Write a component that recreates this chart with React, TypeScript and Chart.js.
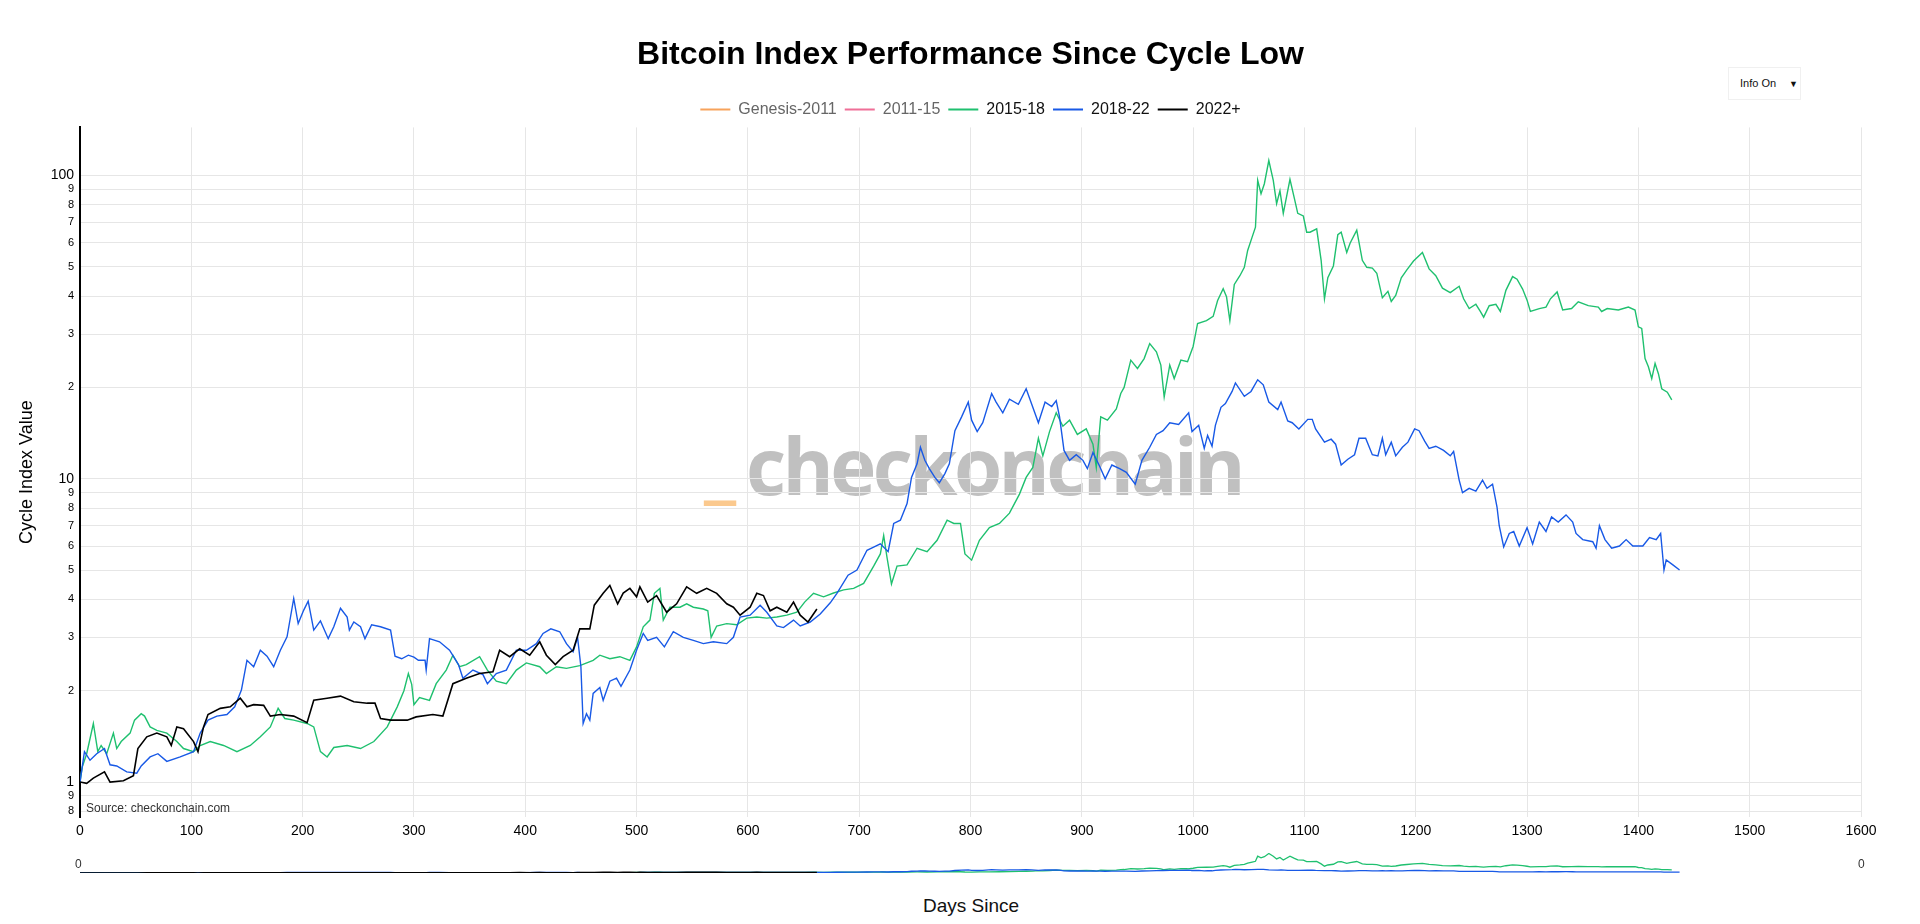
import React, { useEffect, useRef } from "react";
import { Chart, registerables } from "chart.js";

Chart.register(...registerables);

const FONT = '"Liberation Sans", Arial, Helvetica, sans-serif';

const chartTitle = "Bitcoin Index Performance Since Cycle Low";
const seriesLabels = ["Genesis-2011", "2011-15", "2015-18", "2018-22", "2022+"];
const seriesColors = ["#f7a35c", "#ef6f97", "#1fc06f", "#1859e6", "#000000"];
const hiddenSeries = [true, true, false, false, false];

const xTickStep = 100;
const xMin = 0;
const xMax = 1600;
const yMin = 0.767;
const yMax = 144;
const yTickValues = [0.8, 0.9, 1, 2, 3, 4, 5, 6, 7, 8, 9, 10, 20, 30, 40, 50, 60, 70, 80, 90, 100];

const days2015 = [0, 2, 6, 12, 16, 19, 24, 30, 33, 37, 45, 49, 55, 58, 63, 69, 78, 87, 93, 102, 108, 117, 129, 141, 153, 162, 171, 178, 184, 192, 204, 210, 216, 222, 228, 240, 252, 264, 276, 285, 291, 295, 298, 300, 305, 314, 320, 329, 335, 341, 347, 359, 366, 374, 383, 392, 401, 413, 419, 428, 437, 449, 461, 467, 476, 485, 494, 500, 506, 512, 516, 521, 524, 530, 539, 545, 551, 560, 564, 567, 572, 581, 590, 599, 608, 617, 626, 635, 644, 651, 659, 668, 677, 686, 695, 704, 713, 719, 722, 725, 729, 734, 743, 752, 761, 770, 779, 785, 791, 795, 801, 808, 817, 826, 835, 844, 850, 856, 861, 865, 871, 877, 883, 889, 896, 904, 910, 913, 917, 923, 931, 935, 938, 944, 950, 956, 961, 967, 971, 974, 979, 983, 989, 995, 1000, 1004, 1012, 1018, 1022, 1027, 1030, 1033, 1037, 1042, 1046, 1049, 1053, 1056, 1058, 1061, 1064, 1068, 1072, 1075, 1078, 1081, 1087, 1091, 1094, 1099, 1102, 1105, 1111, 1115, 1118, 1121, 1126, 1130, 1133, 1138, 1141, 1147, 1152, 1156, 1161, 1165, 1170, 1175, 1178, 1182, 1187, 1192, 1198, 1206, 1212, 1218, 1224, 1231, 1239, 1243, 1248, 1254, 1258, 1261, 1266, 1272, 1276, 1281, 1287, 1291, 1296, 1300, 1303, 1311, 1317, 1321, 1327, 1332, 1340, 1346, 1355, 1364, 1367, 1372, 1382, 1391, 1397, 1400, 1403, 1406, 1409, 1412, 1415, 1418, 1421, 1426, 1430];
const vals2015 = [1.0, 1.12, 1.24, 1.56, 1.26, 1.32, 1.24, 1.45, 1.29, 1.36, 1.45, 1.6, 1.68, 1.65, 1.52, 1.48, 1.45, 1.36, 1.29, 1.26, 1.32, 1.36, 1.32, 1.26, 1.32, 1.41, 1.52, 1.75, 1.62, 1.6, 1.56, 1.52, 1.26, 1.21, 1.3, 1.32, 1.29, 1.36, 1.52, 1.77, 2.0, 2.28, 2.1, 1.8, 1.9, 1.86, 2.11, 2.34, 2.62, 2.4, 2.44, 2.59, 2.34, 2.15, 2.11, 2.34, 2.47, 2.4, 2.28, 2.4, 2.37, 2.42, 2.52, 2.62, 2.55, 2.59, 2.52, 2.79, 3.25, 3.42, 4.19, 4.35, 3.42, 3.77, 3.77, 3.87, 3.77, 3.72, 3.67, 3.0, 3.27, 3.33, 3.3, 3.47, 3.5, 3.47, 3.5, 3.55, 3.63, 3.92, 4.19, 4.08, 4.2, 4.3, 4.35, 4.52, 5.15, 5.65, 6.5, 5.5, 4.5, 5.15, 5.2, 5.9, 5.75, 6.27, 7.3, 7.12, 7.12, 5.65, 5.39, 6.27, 6.9, 7.12, 7.7, 8.9, 10.1, 10.9, 13.6, 11.9, 14.3, 16.5, 14.9, 15.6, 14.0, 14.6, 13.0, 10.9, 16.0, 15.6, 17.0, 19.1, 20, 24.6, 23.1, 24.9, 27.9, 26.2, 23.7, 18.6, 23.7, 21.4, 24.6, 24.3, 27.3, 32.5, 33.2, 34.3, 38.7, 42.3, 39.8, 33.2, 43.7, 46.7, 49.8, 56.6, 62.6, 67.5, 96.3, 87, 93.9, 112, 96.3, 80.7, 89, 75, 97, 83.8, 75, 73.5, 65, 65, 66.7, 52.5, 39.2, 46, 50.3, 63.8, 65, 55.7, 59.8, 66, 52.5, 49.8, 49.5, 47.6, 39.5, 41.5, 38.4, 40.2, 46, 48.8, 52.2, 55.7, 49.2, 46.7, 42.5, 41.1, 43.1, 39.2, 36.4, 37.6, 35.6, 34.1, 37.2, 37.6, 35.6, 41.8, 46.4, 45.5, 42.2, 38.8, 35.6, 36.4, 36.8, 39.2, 41.3, 36, 36.4, 38.3, 37.2, 36.8, 35.6, 36.4, 36, 36.8, 36, 31.7, 31.3, 24.9, 23.4, 21.4, 24, 22.2, 19.8, 19.3, 18.2];

const days2018 = [0, 4, 9, 15, 22, 27, 33, 42, 51, 55, 63, 70, 78, 90, 102, 108, 115, 123, 132, 139, 145, 150, 156, 162, 168, 174, 180, 186, 192, 196, 201, 205, 210, 216, 223, 228, 234, 240, 242, 246, 252, 256, 262, 270, 279, 283, 289, 295, 300, 304, 310, 311, 314, 323, 332, 340, 344, 353, 362, 366, 374, 383, 392, 401, 410, 416, 423, 431, 437, 443, 447, 450, 452, 455, 458, 461, 467, 470, 476, 482, 486, 494, 500, 506, 510, 518, 525, 533, 542, 551, 560, 569, 581, 587, 593, 602, 611, 617, 626, 632, 641, 647, 656, 665, 674, 680, 690, 698, 707, 713, 719, 726, 731, 737, 743, 747, 752, 755, 759, 763, 768, 772, 777, 781, 786, 792, 798, 801, 806, 811, 819, 823, 829, 835, 843, 850, 855, 861, 867, 873, 877, 880, 884, 889, 895, 901, 905, 910, 916, 921, 927, 934, 940, 948, 954, 961, 967, 973, 979, 987, 996, 999, 1005, 1010, 1013, 1017, 1020, 1025, 1029, 1035, 1038, 1046, 1052, 1058, 1063, 1068, 1076, 1079, 1085, 1089, 1095, 1103, 1107, 1110, 1118, 1124, 1128, 1133, 1139, 1145, 1149, 1155, 1161, 1166, 1170, 1173, 1178, 1182, 1188, 1193, 1199, 1203, 1208, 1212, 1218, 1225, 1231, 1234, 1239, 1242, 1248, 1254, 1260, 1264, 1269, 1273, 1275, 1279, 1284, 1288, 1293, 1300, 1305, 1311, 1317, 1322, 1328, 1335, 1341, 1344, 1350, 1359, 1362, 1365, 1370, 1376, 1383, 1389, 1395, 1404, 1410, 1416, 1420, 1423, 1425, 1431, 1437];
const vals2018 = [1.0, 1.26, 1.18, 1.24, 1.29, 1.14, 1.13, 1.08, 1.07, 1.13, 1.21, 1.24, 1.17, 1.21, 1.26, 1.45, 1.6, 1.65, 1.67, 1.77, 2.01, 2.52, 2.4, 2.72, 2.6, 2.4, 2.72, 3.01, 4.03, 3.33, 3.69, 3.95, 3.17, 3.4, 2.97, 3.25, 3.74, 3.5, 3.17, 3.37, 3.25, 2.97, 3.3, 3.25, 3.17, 2.6, 2.55, 2.62, 2.58, 2.52, 2.52, 2.34, 2.97, 2.9, 2.72, 2.44, 2.2, 2.34, 2.26, 2.11, 2.28, 2.34, 2.72, 2.72, 2.86, 3.09, 3.2, 3.13, 2.86, 2.69, 3.0, 2.4, 1.56, 1.68, 1.6, 1.96, 2.05, 1.86, 2.15, 2.2, 2.07, 2.34, 2.72, 3.09, 2.93, 3.0, 2.79, 3.13, 3.0, 2.93, 2.86, 2.9, 2.86, 3.0, 3.5, 3.55, 3.83, 3.63, 3.27, 3.23, 3.42, 3.27, 3.37, 3.58, 3.9, 4.19, 4.81, 5.0, 5.81, 5.95, 6.1, 5.75, 7.12, 7.3, 8.28, 10.1, 11.2, 12.7, 11.5, 10.8, 10.1, 9.7, 10.4, 11.2, 14.4, 16.0, 17.9, 15.6, 14.3, 15.3, 19.1, 17.9, 16.5, 18.3, 17.6, 19.8, 17.6, 15.3, 17.9, 17.3, 18.1, 16.0, 12.4, 11.5, 12.0, 11.5, 10.8, 12.2, 11.0, 10.0, 11.1, 10.8, 10.5, 9.6, 11.5, 12.7, 14.0, 14.4, 15.3, 15.1, 16.5, 14.3, 15.0, 12.6, 13.9, 12.8, 15, 17.2, 17.7, 19.4, 20.7, 18.7, 19.4, 21.2, 20.4, 17.9, 16.9, 17.9, 15.5, 15.3, 14.6, 15.7, 15.7, 14.6, 13.2, 13.5, 13.0, 11.1, 11.6, 12.0, 13.6, 13.6, 12.0, 11.9, 13.6, 12.0, 13.2, 11.9, 12.7, 13.2, 14.6, 14.4, 13.3, 12.6, 12.8, 12.4, 11.9, 12.3, 9.9, 9.0, 9.3, 9.1, 9.9, 9.3, 9.6, 8.07, 7.0, 5.96, 6.6, 6.7, 6.0, 6.9, 6.1, 7.2, 6.7, 7.48, 7.2, 7.6, 7.2, 6.6, 6.3, 6.2, 5.9, 7.0, 6.3, 5.9, 6.0, 6.3, 6.0, 6.0, 6.4, 6.3, 6.6, 5.0, 5.4, 5.2, 5.0];

const days2022 = [0, 6, 12, 22, 27, 39, 48, 52, 60, 69, 78, 82, 87, 93, 102, 106, 111, 115, 126, 135, 144, 150, 156, 165, 171, 180, 192, 204, 210, 222, 234, 246, 258, 265, 270, 279, 288, 294, 302, 317, 326, 335, 347, 359, 371, 377, 386, 395, 404, 413, 419, 427, 434, 443, 449, 458, 462, 470, 476, 483, 488, 494, 500, 503, 510, 518, 527, 536, 545, 554, 563, 572, 581, 587, 593, 602, 608, 614, 620, 626, 635, 641, 647, 654, 662];
const vals2022 = [1.0, 0.99, 1.03, 1.08, 1.0, 1.01, 1.05, 1.29, 1.41, 1.45, 1.41, 1.32, 1.52, 1.5, 1.36, 1.26, 1.52, 1.67, 1.75, 1.77, 1.89, 1.77, 1.8, 1.79, 1.65, 1.67, 1.65, 1.57, 1.86, 1.89, 1.92, 1.84, 1.82, 1.82, 1.62, 1.6, 1.6, 1.6, 1.64, 1.67, 1.65, 2.11, 2.2, 2.28, 2.31, 2.72, 2.59, 2.75, 2.62, 2.9, 2.62, 2.44, 2.59, 2.72, 3.2, 3.2, 3.83, 4.19, 4.45, 3.87, 4.2, 4.35, 4.08, 4.4, 3.92, 4.12, 3.63, 3.87, 4.4, 4.19, 4.35, 4.19, 3.87, 3.77, 3.55, 3.77, 4.19, 4.12, 3.67, 3.77, 3.63, 3.92, 3.55, 3.37, 3.72];

const seriesDays: number[][] = [[], [], days2015, days2018, days2022];
const seriesVals: number[][] = [[], [], vals2015, vals2018, vals2022];

const toPoints = (d: number[], v: number[]) => d.map((x, i) => ({ x, y: v[i] }));

const isDecade = (v: number) => Math.abs(Math.log10(v) - Math.round(Math.log10(v))) < 1e-9;
const yLabel = (v: number) => {
  if (isDecade(v)) return String(Math.round(v * 1000) / 1000);
  const p = Math.pow(10, Math.floor(Math.log10(v) + 1e-9));
  return String(Math.round(v / p));
};

const watermarkPlugin = {
  id: "watermark",
  beforeDraw(chart: any) {
    const { ctx } = chart;
    ctx.save();
    ctx.font = 'bold 78px "Open Sans"';
    ctx.textBaseline = "alphabetic";
    ctx.textAlign = "left";
    ctx.fillStyle = "#fbc98e";
    ctx.fillText("_", 704, 493);
    ctx.fillStyle = "#c0c0c0";
    ctx.letterSpacing = "-3.6px";
    ctx.fillText("checkonchain", 746, 495);
    ctx.restore();
  },
};

export default function App() {
  const mainRef = useRef<HTMLCanvasElement>(null);
  const navRef = useRef<HTMLCanvasElement>(null);

  useEffect(() => {
    const order = [4, 3, 2, 1, 0];
    const mainDatasets = seriesLabels.map((label, i) => ({
      label,
      data: toPoints(seriesDays[i], seriesVals[i]),
      borderColor: seriesColors[i],
      backgroundColor: seriesColors[i],
      borderWidth: i === 4 ? 1.6 : 1.4,
      pointRadius: 0,
      tension: 0,
      hidden: hiddenSeries[i],
      order: order[i],
    }));

    const main = new Chart(mainRef.current as HTMLCanvasElement, {
      type: "line",
      data: { datasets: mainDatasets as any },
      plugins: [watermarkPlugin as any],
      options: {
        responsive: false,
        animation: false,
        events: [],
        layout: { padding: { left: 0, right: 59, top: 0, bottom: 0 } },
        plugins: {
          tooltip: { enabled: false },
          title: {
            display: true,
            text: chartTitle,
            fullSize: false,
            color: "#000",
            font: { size: 32, weight: "bold", family: FONT },
            padding: { top: 36, bottom: 19 },
          },
          legend: {
            display: true,
            fullSize: false,
            labels: {
              boxWidth: 30,
              boxHeight: 2,
              padding: 8,
              font: { size: 16, family: FONT },
              generateLabels: (chart: any) =>
                chart.data.datasets.map((ds: any, i: number) => ({
                  text: ds.label,
                  fillStyle: ds.borderColor,
                  strokeStyle: ds.borderColor,
                  lineWidth: 0,
                  hidden: false,
                  fontColor: hiddenSeries[i] ? "#666666" : "#111111",
                  datasetIndex: i,
                })),
            },
          },
        },
        scales: {
          x: {
            type: "linear",
            min: xMin,
            max: xMax,
            ticks: {
              stepSize: xTickStep,
              color: "#000",
              font: { size: 14, family: FONT },
              padding: 6,
              maxRotation: 0,
              autoSkip: false,
              callback: (v: any) => String(Math.round(Number(v))),
            },
            grid: { color: "#e6e6e6", drawTicks: false },
            border: { display: false },
            afterFit: (s: any) => {
              s.height = 33;
            },
          },
          y: {
            type: "logarithmic",
            min: yMin,
            max: yMax,
            afterBuildTicks: (s: any) => {
              s.ticks = yTickValues.map((v) => ({ value: v }));
            },
            ticks: {
              autoSkip: false,
              color: "#000",
              padding: 6,
              callback: (v: any) => yLabel(Number(v)),
              font: (ctx: any) => ({
                size: ctx.tick && isDecade(ctx.tick.value) ? 14 : 11,
                family: FONT,
              }),
            },
            grid: { color: "#e6e6e6", drawTicks: false },
            border: { display: true, color: "#000", width: 2 },
            title: {
              display: true,
              text: "Cycle Index Value",
              color: "#000",
              font: { size: 18, family: FONT },
              padding: { top: 16, bottom: 0 },
            },
            afterFit: (s: any) => {
              s.width = 80;
            },
          },
        },
      } as any,
    });

    const navDatasets = seriesLabels.map((label, i) => ({
      label,
      data: toPoints(seriesDays[i], seriesVals[i]),
      borderColor: seriesColors[i],
      borderWidth: 1.3,
      pointRadius: 0,
      tension: 0,
      hidden: hiddenSeries[i],
      order: order[i],
    }));

    const nav = new Chart(navRef.current as HTMLCanvasElement, {
      type: "line",
      data: { datasets: navDatasets as any },
      options: {
        responsive: false,
        animation: false,
        events: [],
        layout: { padding: { left: 80, right: 59, top: 3, bottom: 7 } },
        plugins: { legend: { display: false }, title: { display: false }, tooltip: { enabled: false } },
        scales: {
          x: { type: "linear", min: xMin, max: xMax, display: false },
          y: { type: "linear", min: 0, max: 115, display: false },
        },
      } as any,
    });

    return () => {
      main.destroy();
      nav.destroy();
    };
  }, []);

  return (
    <div
      style={{
        position: "fixed",
        left: 0,
        top: 0,
        width: 1920,
        height: 924,
        background: "#fff",
        overflow: "hidden",
        fontFamily: FONT,
      }}
    >
      <canvas
        ref={mainRef}
        width={1920}
        height={850}
        style={{ position: "absolute", left: 0, top: 0, width: 1920, height: 850 }}
      />
      <canvas
        ref={navRef}
        width={1920}
        height={30}
        style={{ position: "absolute", left: 0, top: 850, width: 1920, height: 30 }}
      />
      <div style={{ position: "absolute", left: 86, top: 801, fontSize: 12, color: "#333", whiteSpace: "nowrap", lineHeight: "14px" }}>
        Source: checkonchain.com
      </div>
      <div style={{ position: "absolute", left: 75, top: 857, fontSize: 12, color: "#333", lineHeight: "14px" }}>0</div>
      <div style={{ position: "absolute", left: 1858, top: 857, fontSize: 12, color: "#333", lineHeight: "14px" }}>0</div>
      <div
        style={{
          position: "absolute",
          left: 771,
          width: 400,
          top: 894,
          textAlign: "center",
          fontSize: 19,
          color: "#111",
          lineHeight: "24px",
        }}
      >
        Days Since
      </div>
      <div
        style={{
          position: "absolute",
          left: 1728,
          top: 67,
          width: 73,
          height: 33,
          border: "1px solid #f0f0f0",
          boxSizing: "border-box",
          background: "#fff",
          fontSize: 11,
          color: "#111",
        }}
      >
        <span style={{ position: "absolute", left: 11, top: 9, lineHeight: "13px" }}>Info On</span>
        <span style={{ position: "absolute", left: 60, top: 10, fontSize: 9, lineHeight: "12px" }}>▼</span>
      </div>
    </div>
  );
}
